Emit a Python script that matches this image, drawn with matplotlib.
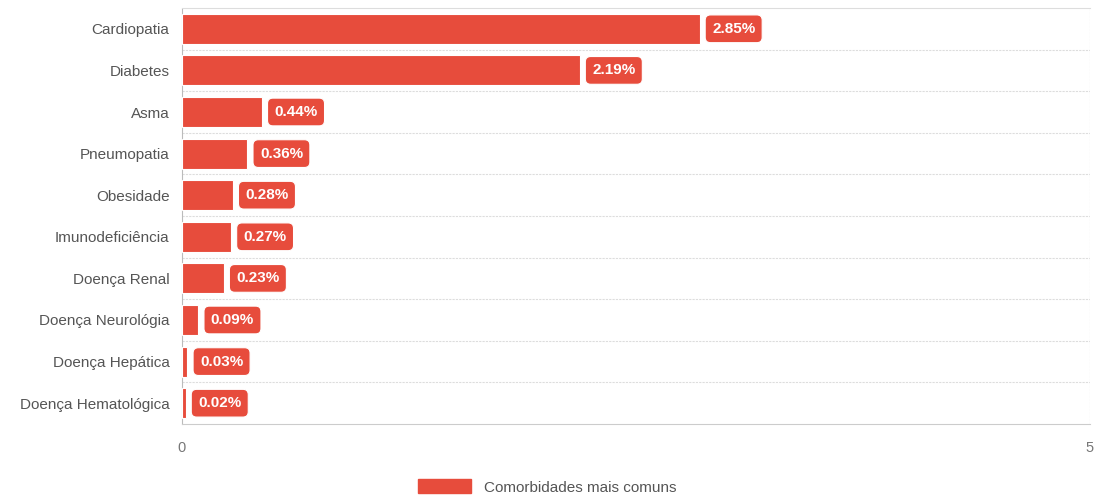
import matplotlib

matplotlib.use("Agg")
import matplotlib.pyplot as plt
from matplotlib.patches import Patch

categories = [
    "Cardiopatia", "Diabetes", "Asma", "Pneumopatia", "Obesidade",
    "Imunodeficiência", "Doença Renal", "Doença Neurológia",
    "Doença Hepática", "Doença Hematológica",
]
values = [2.85, 2.19, 0.44, 0.36, 0.28, 0.27, 0.23, 0.09, 0.03, 0.02]
labels = ["2.85%", "2.19%", "0.44%", "0.36%", "0.28%", "0.27%", "0.23%",
          "0.09%", "0.03%", "0.02%"]
series_name = "Comorbidades mais comuns"

RED = "#e74c3c"
GRID = "#dddddd"
TEXT = "#555555"

plt.rcParams["font.family"] = ["Liberation Sans", "DejaVu Sans"]

fig = plt.figure(figsize=(10.94, 4.98), dpi=100)
ax = fig.add_axes([182 / 1094, 1 - 424 / 498, (1090 - 182) / 1094, (424 - 8) / 498])

y = list(range(len(categories)))
ax.barh(y, values, height=0.72, color=RED, edgecolor="white", linewidth=0.8, zorder=3)

for yi, v, lab in zip(y, values, labels):
    ax.annotate(lab, (v, yi), xytext=(9, 0), textcoords="offset points",
                ha="left", va="center", color="white", fontsize=11,
                fontweight="bold", zorder=5,
                bbox=dict(boxstyle="round,pad=0.45,rounding_size=0.35",
                          fc=RED, ec="white", lw=0.8))

ax.set_xlim(0, 5)
ax.set_ylim(len(categories) - 0.5, -0.5)
ax.set_yticks(y)
ax.set_yticklabels(categories, color=TEXT, fontsize=11)
ax.set_xticks([0, 5])
ax.set_xticklabels(["0", "5"], color="#777777", fontsize=10.5)
ax.tick_params(axis="y", length=0, pad=9)
ax.tick_params(axis="x", length=0, pad=12)

# row separators
for b in [i + 0.5 for i in range(len(categories) - 1)]:
    ax.axhline(b, color=GRID, lw=0.8, ls=(0, (2, 1)), zorder=1)
ax.axvline(5, color="#cccccc", lw=0.8, ls=(0, (2, 1)), zorder=1)

ax.spines["right"].set_visible(False)
ax.spines["top"].set_color(GRID)
ax.spines["bottom"].set_color("#cccccc")
ax.spines["left"].set_color("#bbbbbb")
ax.spines["left"].set_linestyle((0, (2, 1)))

leg = fig.legend(handles=[Patch(color=RED, label=series_name)],
                 loc="center", bbox_to_anchor=(0.5, 1 - 487 / 498), frameon=False,
                 handlelength=3.5, handleheight=1.0, fontsize=11)
for t in leg.get_texts():
    t.set_color(TEXT)

fig.savefig("out.png", dpi=100)
